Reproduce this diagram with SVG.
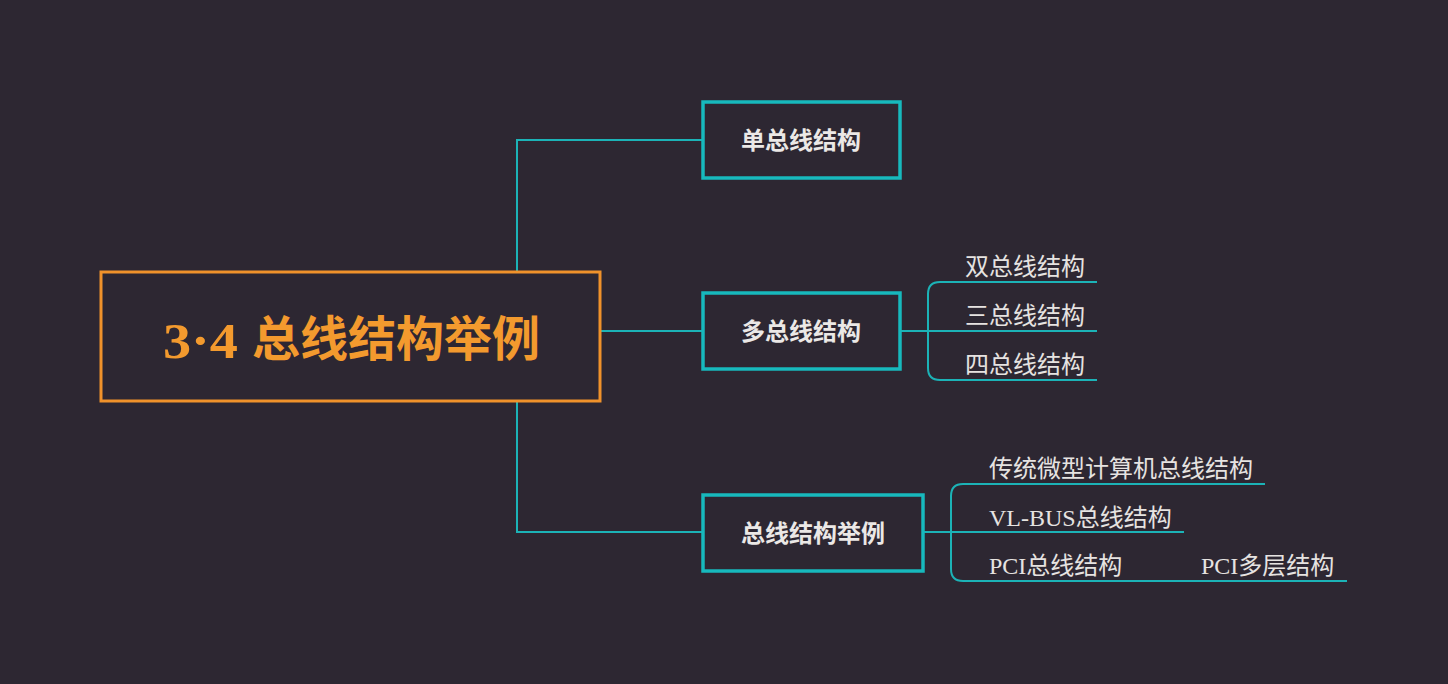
<svg xmlns="http://www.w3.org/2000/svg" width="1448" height="684" viewBox="0 0 1448 684">
<style>
.bg{fill:#2d2732}
.conn{fill:none;stroke:#1cb3b7;stroke-width:2}
.box{fill:#2d2732;stroke:#17b9bd;stroke-width:3.5}
.root{fill:#2d2732;stroke:#f0922b;stroke-width:3}
.lbl{font-family:"Liberation Serif","Noto Sans CJK SC",serif;font-weight:bold;font-size:24px;fill:#ebe8e6;text-anchor:middle}
.lblb{font-family:"Noto Sans CJK SC","Liberation Sans",sans-serif;font-weight:bold;font-size:24px;fill:#ebe8e6;text-anchor:middle}
.leaf{font-family:"Liberation Serif","Noto Sans CJK SC",serif;font-size:24px;fill:#e6e3e1}
.title{font-weight:bold;fill:#f39a2e}
</style>
<rect class="bg" x="0" y="0" width="1448" height="684"/>
<g id="connectors">
<path class="conn" d="M517,272 V140 H703"/>
<path class="conn" d="M517,401 V532 H703"/>
<path class="conn" d="M600,331 H703"/>
<path class="conn" d="M900,331 H1097"/>
<path class="conn" d="M1097,282 H940 Q928,282 928,294 V368 Q928,380 940,380 H1097"/>
<path class="conn" d="M923,532 H1184"/>
<path class="conn" d="M1265,484 H963 Q951,484 951,496 V569 Q951,581 963,581 H1347"/>
</g>
<g id="root">
<rect class="root" x="101" y="272" width="499" height="129"/>
<text class="title" x="163" y="358" font-family="Liberation Serif,serif" font-size="50" textLength="75" lengthAdjust="spacingAndGlyphs">3·4</text>
<text class="title" x="252" y="356" font-family="Noto Sans CJK SC,sans-serif" font-size="48">总线结构举例</text>
</g>
<g id="n1">
<rect class="box" x="703" y="102" width="197" height="76"/>
<text class="lblb" x="801" y="149">单总线结构</text>
</g>
<g id="n2">
<rect class="box" x="703" y="293" width="197" height="76"/>
<text class="lblb" x="801" y="340">多总线结构</text>
</g>
<g id="n3">
<rect class="box" x="703" y="495" width="220" height="76"/>
<text class="lblb" x="813" y="542">总线结构举例</text>
</g>
<g id="n2a"><text class="leaf" x="965" y="275">双总线结构</text></g>
<g id="n2b"><text class="leaf" x="965" y="324">三总线结构</text></g>
<g id="n2c"><text class="leaf" x="965" y="373">四总线结构</text></g>
<g id="n3a"><text class="leaf" x="989" y="477">传统微型计算机总线结构</text></g>
<g id="n3b"><text class="leaf" x="989" y="526">VL-BUS总线结构</text></g>
<g id="n3c"><text class="leaf" x="989" y="574">PCI总线结构</text></g>
<g id="n3c1"><text class="leaf" x="1201" y="574">PCI多层结构</text></g>
</svg>
